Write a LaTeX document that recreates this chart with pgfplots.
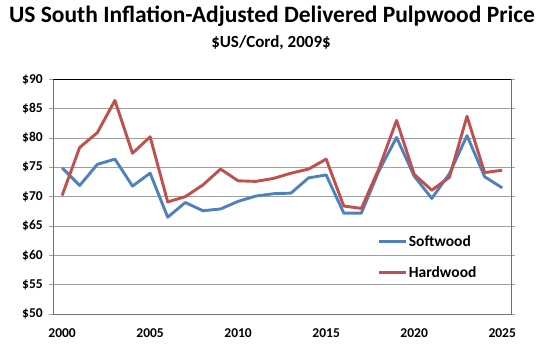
\documentclass[border=0pt]{standalone}
\usepackage{fontspec}
\setmainfont{Carlito}
\usepackage{pgfplots}
\pgfplotsset{compat=1.18}
\definecolor{sw}{HTML}{4F81BD}
\definecolor{hw}{HTML}{C0504D}
\definecolor{gridc}{RGB}{160,160,160}
\begin{document}
\begin{tikzpicture}
\useasboundingbox (0,0) rectangle (546pt,357pt);
\node[font=\bfseries\fontsize{23.5}{26}\selectfont] at (272pt,341pt) {US South Inflation-Adjusted Delivered Pulpwood Price};
\node[font=\bfseries\fontsize{17}{20}\selectfont] at (271pt,314pt) {\$US/Cord, 2009\$};
\begin{axis}[
  scale only axis,
  width=457.7pt, height=234.7pt,
  at={(53.3pt,43pt)}, anchor=south west,
  xmin=1999.5, xmax=2025.5,
  ymin=50, ymax=90,
  xtick={2000,2005,2010,2015,2020,2025},
  xticklabels={2000,2005,2010,2015,2020,2025},
  ytick={50,55,60,65,70,75,80,85,90},
  yticklabels={\$50,\$55,\$60,\$65,\$70,\$75,\$80,\$85,\$90},
  extra x ticks={1999.5,2000.5,...,2025.5},
  extra x tick labels={},
  extra x tick style={major tick length=4pt, tick align=outside, xmajorgrids=false},
  x tick style={draw=none},
  y tick style={draw=gridc, line width=0.8pt},
  tick align=outside,
  major tick length=4pt,
  ymajorgrids,
  grid style={draw=gridc, line width=0.8pt},
  axis line style={draw=gridc!70!black, line width=0.8pt},
  ticklabel style={font=\bfseries\fontsize{13.5}{15}\selectfont},
  xticklabel style={yshift=-7pt},
  yticklabel style={xshift=-3pt},
  legend cell align=left,
  legend style={draw=none, fill=none, at={(rel axis cs:0.709,0.341)}, anchor=north west,
    font=\bfseries\fontsize{15.5}{18}\selectfont, row sep=17pt, inner sep=0pt,
    nodes={inner sep=1pt}},
  legend image code/.code={\draw[#1] (0pt,0pt) -- (27pt,0pt);},
]
\addplot[sw, line width=2.9pt, line join=round] coordinates {
(2000,74.9) (2001,71.9) (2002,75.5) (2003,76.4) (2004,71.8) (2005,74.0)
(2006,66.5) (2007,69.0) (2008,67.6) (2009,67.9) (2010,69.2) (2011,70.1)
(2012,70.5) (2013,70.6) (2014,73.2) (2015,73.7) (2016,67.2) (2017,67.2)
(2018,74.4) (2019,80.1) (2020,73.5) (2021,69.7) (2022,73.9) (2023,80.4)
(2024,73.4) (2025,71.5)};
\addlegendentry{Softwood}
\addplot[hw, line width=2.9pt, line join=round] coordinates {
(2000,70.2) (2001,78.4) (2002,80.9) (2003,86.4) (2004,77.4) (2005,80.2)
(2006,69.1) (2007,70.0) (2008,72.0) (2009,74.7) (2010,72.7) (2011,72.6)
(2012,73.1) (2013,74.0) (2014,74.7) (2015,76.4) (2016,68.4) (2017,68.0)
(2018,74.8) (2019,83.0) (2020,73.8) (2021,71.1) (2022,73.3) (2023,83.7)
(2024,74.1) (2025,74.5)};
\addlegendentry{Hardwood}
\draw[black, line width=0.9pt] (rel axis cs:0,1) -- (rel axis cs:1,1);
\end{axis}
\end{tikzpicture}
\end{document}
